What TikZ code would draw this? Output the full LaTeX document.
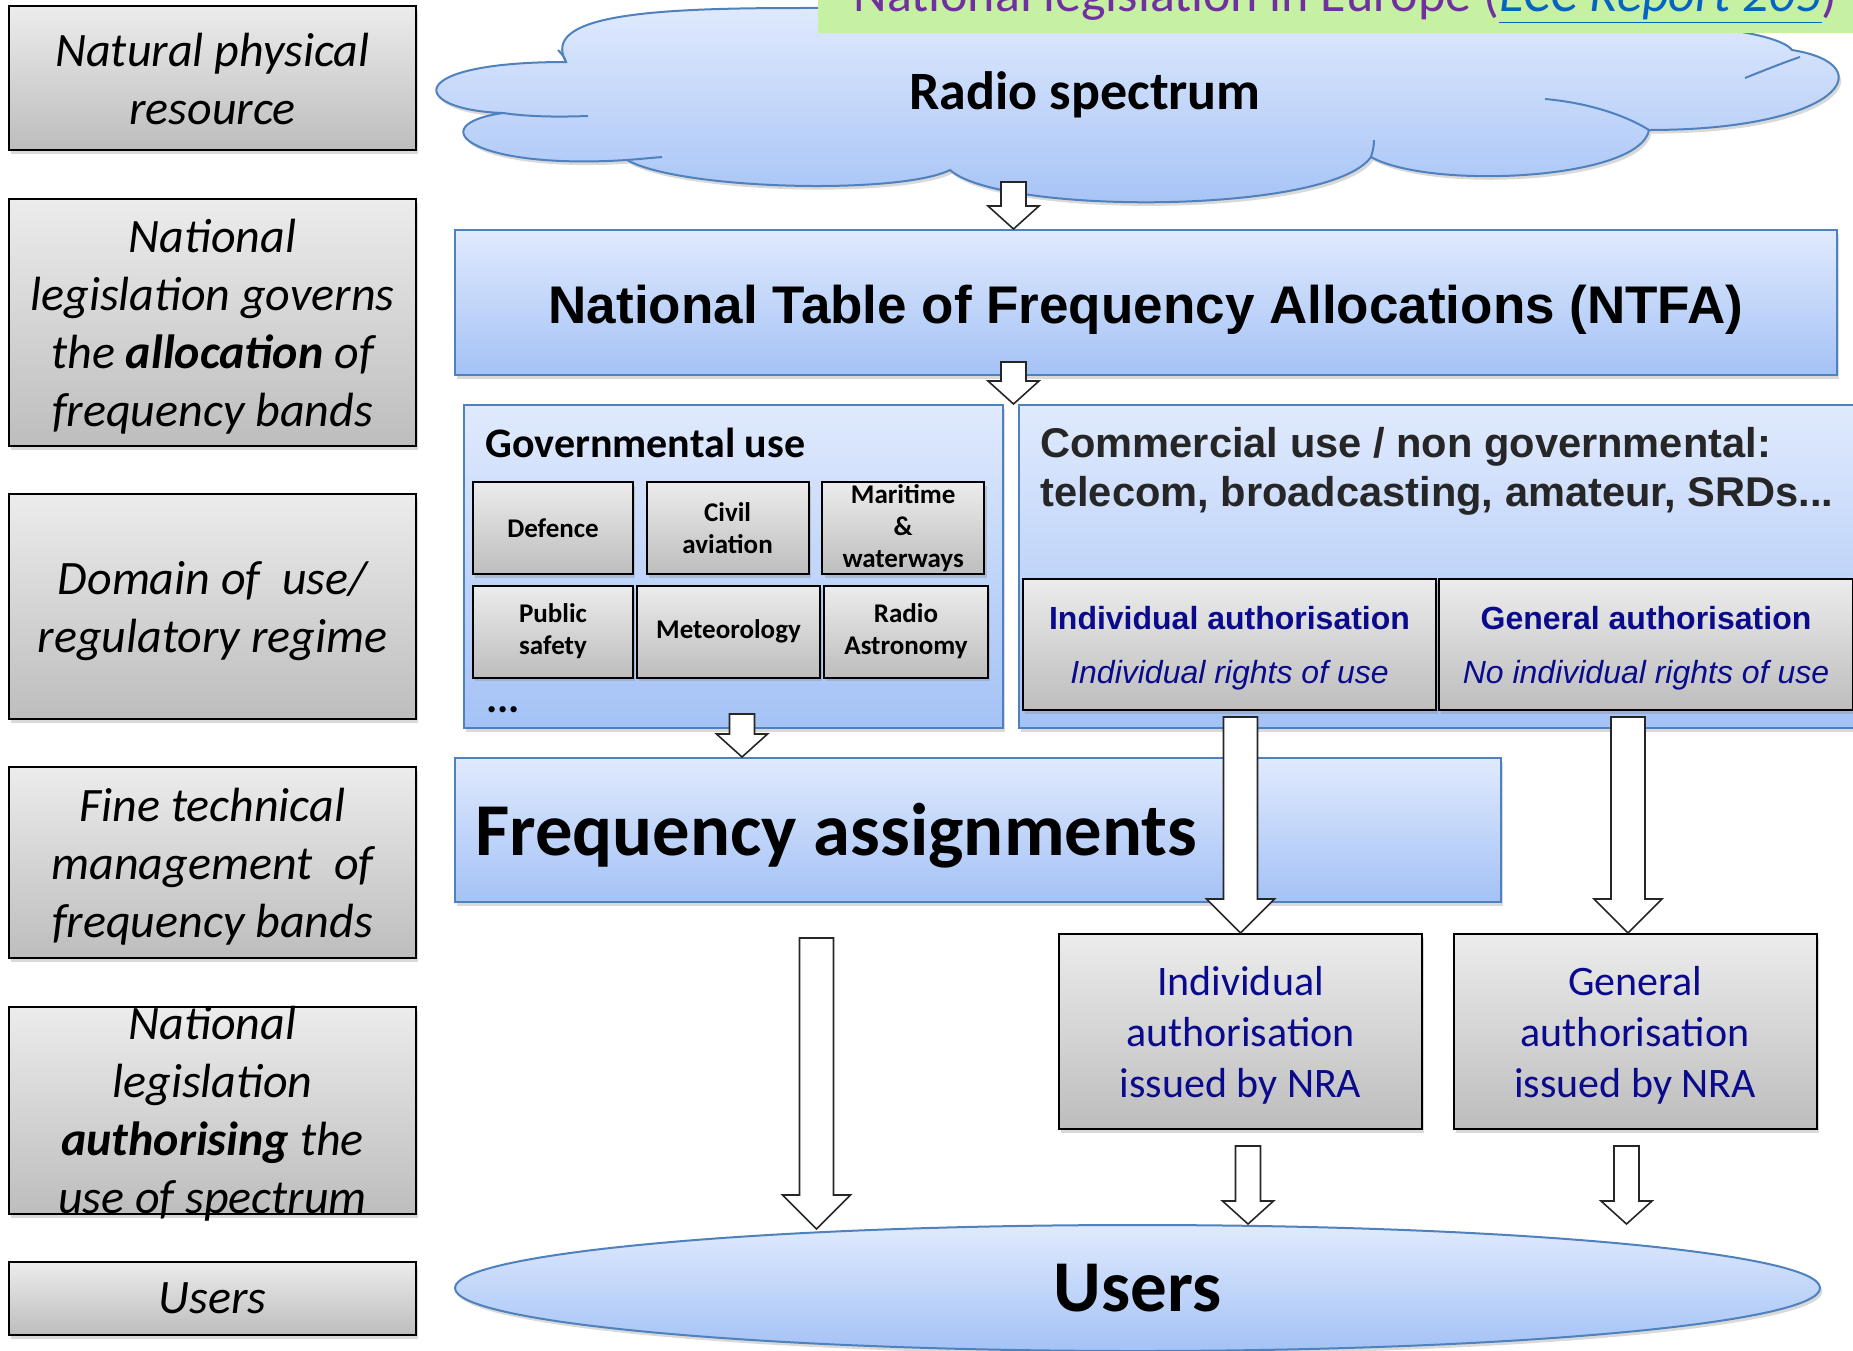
\documentclass[tikz,border=0pt]{standalone}
\usepackage{fontspec}
\setmainfont{Carlito}
\newfontfamily\arialfont{Liberation Sans}
\usetikzlibrary{chains,positioning,shapes.geometric,shadows,calc}

\definecolor{bluetop}{RGB}{224,234,253}
\definecolor{bluebot}{RGB}{164,194,246}
\definecolor{blueline}{RGB}{79,129,189}
\definecolor{graytop}{RGB}{236,236,236}
\definecolor{graybot}{RGB}{189,189,189}
\definecolor{navytext}{RGB}{10,10,140}
\definecolor{titlegreen}{RGB}{198,241,163}
\definecolor{titlepurple}{RGB}{112,48,160}
\definecolor{linkblue}{RGB}{5,99,193}

\tikzset{
  blockarr/.style n args={3}{draw=black!85,fill=white,line width=0.8pt,
    to path={let \p1=(\tikztostart), \p2=(\tikztotarget) in
      (\x1-#1,\y1) -- (\x1+#1,\y1) -- (\x1+#1,\y2+#3) -- (\x1+#2,\y2+#3)
      -- (\x1,\y2) -- (\x1-#2,\y2+#3) -- (\x1-#1,\y2+#3) -- cycle}},
  smallarr/.style={blockarr={6.25pt}{12.75pt}{11.5pt}},
  bigarr/.style={blockarr={8.5pt}{17pt}{17pt}}
}

\begin{document}
\begin{tikzpicture}[x=0.5pt,y=-0.5pt]
\tikzstyle{softshadow}=[drop shadow={shadow xshift=1.2pt,shadow yshift=-1.8pt,opacity=.3}]
\tikzstyle{bluebox}=[draw=blueline,line width=1pt,top color=bluetop,bottom color=bluebot,softshadow]
\tikzstyle{graybox}=[draw=black,line width=1pt,top color=graytop,bottom color=graybot,softshadow]
\tikzstyle{levelbox}=[graybox,minimum width=203.5pt,inner sep=2pt]
\tikzstyle{leveltext}=[inner sep=0pt,align=center,font=\itshape\fontsize{24}{29}\selectfont]
\tikzstyle{subbox}=[graybox,minimum height=46pt,inner sep=0pt,align=center,
  font=\bfseries\fontsize{13.5}{16}\selectfont]
\tikzstyle{authbox}=[graybox,minimum height=65.5pt,inner sep=0pt]
\tikzstyle{authtext}=[inner sep=0pt,align=center,text=navytext,font=\arialfont\fontsize{16}{27}\selectfont]
\tikzstyle{nrabox}=[graybox,minimum width=181.5pt,minimum height=97.5pt,inner sep=0pt]
\tikzstyle{nratext}=[inner sep=0pt,align=center,text=navytext,font=\fontsize{21}{25.5}\selectfont]
\tikzstyle{cloudline}=[draw=blueline,line width=1pt]

\useasboundingbox (0,0) rectangle (1853,1350);

%% Left column: levels
\node[levelbox,minimum height=72pt] (resource) at (212.5,78) {};
\node[leveltext] (resourcetext) at ([yshift=-0.5pt]resource.center) {Natural physical\\resource};
\node[levelbox,minimum height=123.5pt] (allocation) at (212.5,322.5) {};
\node[leveltext] (allocationtext) at ([yshift=-2pt]allocation.center)
  {National\\legislation governs\\the \textbf{allocation} of\\frequency bands};
\node[levelbox,minimum height=112.5pt] (domain) at (212.5,606.5) {};
\node[leveltext] (domaintext) at ([yshift=-2.2pt]domain.center) {Domain of~ use/\\regulatory regime};
\node[levelbox,minimum height=95.5pt] (finemgmt) at (212.5,862.5) {};
\node[leveltext] (finemgmttext) at ([yshift=-2pt]finemgmt.center)
  {Fine technical\\management~ of\\frequency bands};
\node[levelbox,minimum height=103.5pt] (authorising) at (212.5,1110.5) {};
\node[leveltext] (authorisingtext) at ([yshift=-1.8pt]authorising.center)
  {National\\legislation\\\textbf{authorising} the\\use of spectrum};
\node[levelbox,minimum height=36.5pt] (userslevel) at (212.5,1298.5) {};
\node[leveltext] (userstext) at (userslevel.center) {Users};

%% Radio spectrum cloud
\draw[cloudline,top color=bluetop,bottom color=bluebot,softshadow]
  (566,62) .. controls (540,15) and (650,8) .. (800,8)
  .. controls (1300,4) and (1760,8) .. (1792,50)
  .. controls (1885,65) and (1840,130) .. (1649,130)
  .. controls (1640,180) and (1430,190) .. (1371,157)
  .. controls (1330,215) and (1000,215) .. (950,170)
  .. controls (900,195) and (680,190) .. (627,160)
  .. controls (470,170) and (420,125) .. (503,113)
  .. controls (410,110) and (400,62) .. (566,62) -- cycle;
\draw[cloudline] (503,113) .. controls (530,117) and (560,117) .. (588,116);
\draw[cloudline] (627,160) .. controls (640,159) and (650,158) .. (662,157);
\draw[cloudline] (1371,157) .. controls (1373,150) and (1374,146) .. (1374,140);
\draw[cloudline] (1649,130) .. controls (1620,112) and (1580,102) .. (1545,99);
\draw[cloudline] (1745,78) .. controls (1765,70) and (1785,62) .. (1800,57);
\draw[cloudline] (566,62) .. controls (565,58) and (562,54) .. (558,50);
\node[anchor=base,inner sep=0pt,font=\bfseries\fontsize{27}{30}\selectfont] (spectrum)
  at (1085,109) {Radio spectrum};

% title bar on top
\node[fill=titlegreen,minimum width=520pt,minimum height=40pt,anchor=south west,inner sep=0pt]
  (titlebar) at (818,33) {};
\node[anchor=base west,inner sep=0pt,text=titlepurple,font=\fontsize{26}{30}\selectfont] (titletext)
  at (853,11) {National legislation in Europe (\textcolor{linkblue}{\underline{\textit{ECC Report 205}}})};

%% NTFA
\node[bluebox,minimum width=691pt,minimum height=72.5pt] (ntfa) at (1146,302.5) {};
\node[anchor=base,inner sep=0pt,font=\arialfont\bfseries\fontsize{26.5}{30}\selectfont] (ntfatext)
  at (1146,323) {National Table of Frequency Allocations (NTFA)};

%% Governmental use
\node[bluebox,minimum width=269.5pt,minimum height=161.5pt] (govuse) at (733.5,566.5) {};
\node[anchor=base west,inner sep=0pt,font=\bfseries\fontsize{21}{25}\selectfont] (govtitle)
  at (485,457) {Governmental use};
\node[anchor=base west,inner sep=0pt,font=\bfseries\fontsize{21}{25}\selectfont] (govmore)
  at (486,712) {...};

\begin{scope}[start chain=govrow1 going right,node distance=5.8pt]
  \node[on chain=govrow1,subbox,minimum width=80pt] (defence) at (553,528) {Defence};
  \node[on chain=govrow1,subbox,minimum width=81pt] (civil) {Civil\\aviation};
  \node[on chain=govrow1,subbox,minimum width=81pt] (maritime) {Maritime\\\&\\waterways};
\end{scope}
\begin{scope}[start chain=govrow2 going right,node distance=1pt]
  \node[on chain=govrow2,subbox,minimum width=80pt] (publicsafety) at (553,631.5) {Public\\safety};
  \node[on chain=govrow2,subbox,minimum width=91.5pt] (meteo) {Meteorology};
  \node[on chain=govrow2,subbox,minimum width=82pt] (radioastro) {Radio\\Astronomy};
\end{scope}

%% Commercial use
\node[bluebox,minimum width=421.5pt,minimum height=161.5pt] (comuse) at (1440.5,566.5) {};
\node[anchor=north west,align=left,inner sep=0pt,text=black!85,
  font=\arialfont\bfseries\fontsize{20.8}{24.5}\selectfont] (comtitle) at (1040,427)
  {Commercial use / non governmental:\\telecom, broadcasting, amateur, SRDs...};
\node[authbox,minimum width=206.5pt] (indauth) at (1229.5,644.5) {};
\node[authtext] (indauthtext) at ([yshift=-1.8pt]indauth.center)
  {\textbf{Individual authorisation}\\\textit{Individual rights of use}};
\node[authbox,minimum width=207pt] (genauth) at (1646,644.5) {};
\node[authtext] (genauthtext) at ([yshift=-1.8pt]genauth.center)
  {\textbf{General authorisation}\\\textit{No individual rights of use}};

%% Frequency assignments
\node[bluebox,minimum width=523pt,minimum height=72pt] (freqassign) at (978,830) {};
\node[anchor=base west,inner sep=0pt,font=\bfseries\fontsize{37.3}{40}\selectfont] (freqtext)
  at (475,855) {Frequency assignments};

%% Authorisations issued by NRA
\node[nrabox] (indnra) at (1240.5,1031.5) {};
\node[nratext] (indnratext) at ([yshift=-1.8pt]indnra.center) {Individual\\authorisation\\issued by NRA};
\node[nrabox] (gennra) at (1635,1031.5) {};
\node[nratext] (gennratext) at ([yshift=-1.8pt]gennra.center) {General\\authorisation\\issued by NRA};

%% Users
\node[bluebox,ellipse,minimum width=682.5pt,minimum height=63pt,
  font=\bfseries\fontsize{36.5}{40}\selectfont] (users) at (1137.5,1288) {Users};

%% Block arrows
\coordinate (a1top) at (1013.5,182);
\coordinate (a2top) at (1013.5,362);
\coordinate (a3top) at (742,714);
\coordinate (a4top) at (1240.5,717);
\coordinate (a5top) at (1628,717);
\coordinate (a6top) at (816.5,938);
\coordinate (a6tip) at (816.5,1229);
\coordinate (a7top) at (1248,1146);
\coordinate (a8top) at (1626.5,1146);

\draw[smallarr] (a1top) to (a1top |- ntfa.north);
\draw[smallarr] (a2top) to (a2top |- govuse.north);
\draw[smallarr] (a3top) to (a3top |- freqassign.north);
\draw[bigarr] (a4top) to (indnra.north);
\draw[bigarr] (a5top) to (a5top |- gennra.north);
\draw[bigarr] (a6top) to (a6tip);
\draw[smallarr] (a7top) to (a7top |- users.north);
\draw[smallarr] (a8top) to (a8top |- users.north);

\end{tikzpicture}
\end{document}
